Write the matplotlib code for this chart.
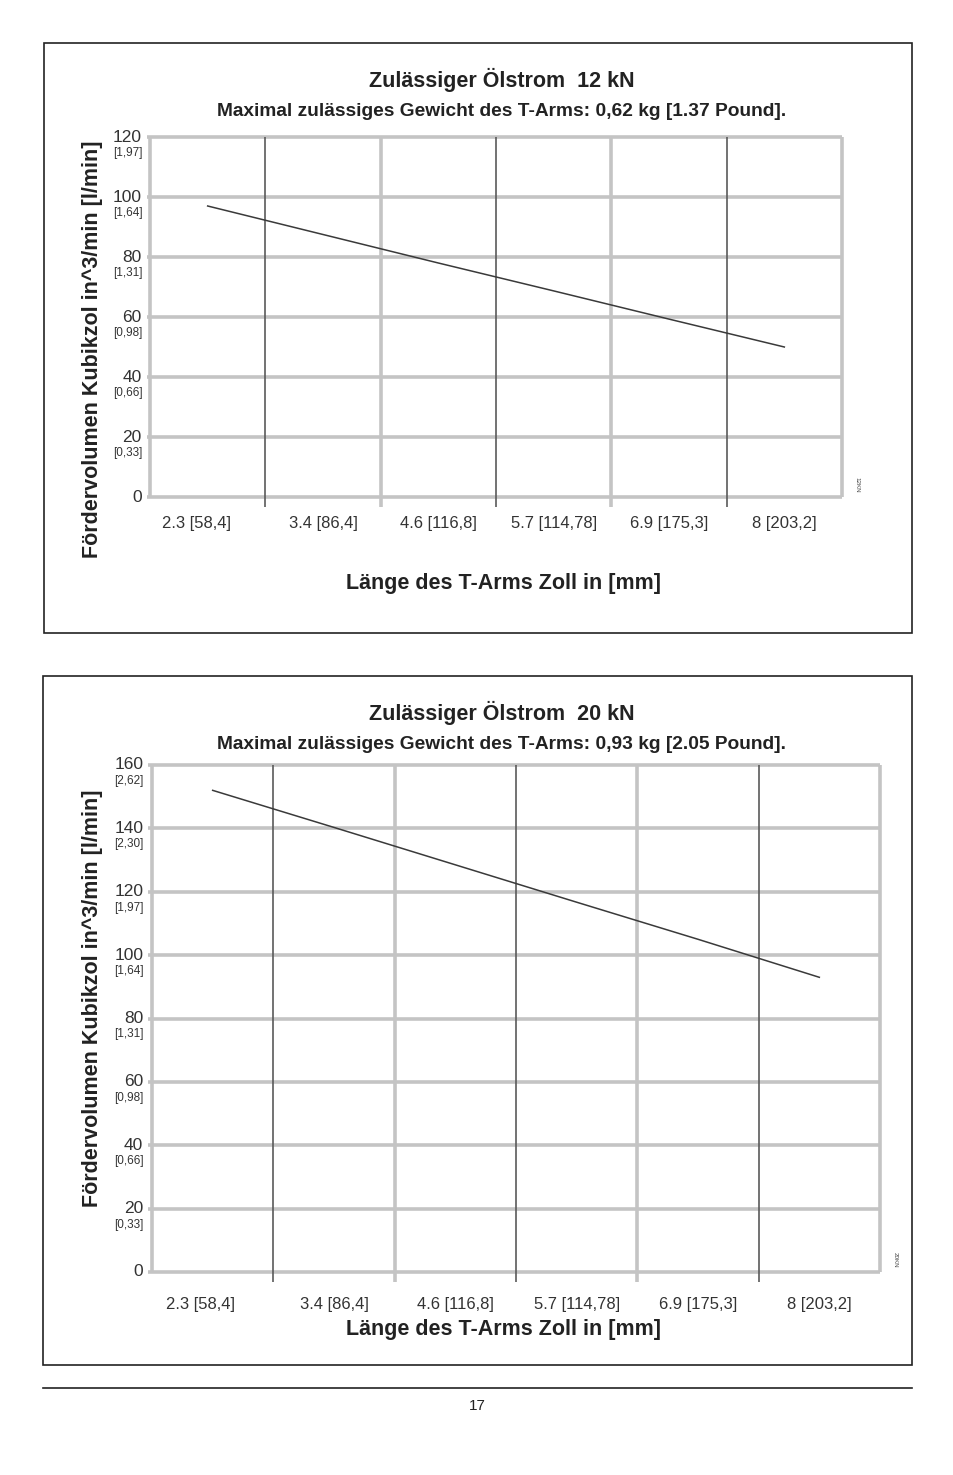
import matplotlib
matplotlib.use("Agg")
import matplotlib.pyplot as plt
import matplotlib.patches as patches
import matplotlib.transforms as mtransforms

W, H = 954, 1475

# data
x_labels = ["2.3 [58,4]", "3.4 [86,4]", "4.6 [116,8]", "5.7 [114,78]", "6.9 [175,3]", "8 [203,2]"]
flow_12kn = [97, 87.5, 78, 68.7, 59.3, 50]
flow_20kn = [152, 140.3, 128.5, 116.7, 105, 93]
yticks_12kn = [0, 20, 40, 60, 80, 100, 120]
yticks_20kn = [0, 20, 40, 60, 80, 100, 120, 140, 160]
lmin_labels = {20: "[0,33]", 40: "[0,66]", 60: "[0,98]", 80: "[1,31]", 100: "[1,64]",
               120: "[1,97]", 140: "[2,30]", 160: "[2,62]"}

BOLD = ["Liberation Sans", "DejaVu Sans"]
NARROW = ["Liberation Sans Narrow", "Liberation Sans", "DejaVu Sans"]

fig = plt.figure(figsize=(W / 100, H / 100), dpi=100)


def fbox(x0, y0, x1, y1):
    # pixel box (top-left origin) -> figure fraction rect
    return [x0 / W, 1 - y1 / H, (x1 - x0) / W, (y1 - y0) / H]


def ftext(x, y, s, **kw):
    fig.text(x / W, 1 - y / H, s, **kw)


def chart(frame, plot, values, yticks, title, subtitle, xtick_y, xlab_y, ylab_y, tag):
    # outer frame
    fig.patches.append(patches.Rectangle((frame[0] / W, 1 - frame[3] / H),
                                         (frame[2] - frame[0]) / W, (frame[3] - frame[1]) / H,
                                         transform=fig.transFigure, fill=False,
                                         edgecolor="#222222", linewidth=1.2))
    ax = fig.add_axes(fbox(*plot))
    ymax = yticks[-1]
    n = len(values)
    ax.set_xlim(-0.5, n - 0.5)
    ax.set_ylim(0, ymax)
    for s in ax.spines.values():
        s.set_visible(False)
    ax.set_xticks([])
    ax.set_yticks([])

    light = "#c4c4c4"
    dark = "#5a5a5a"
    for v in yticks:
        ax.plot([-0.53, n - 0.5], [v, v], color=light, lw=2.6, clip_on=False, solid_capstyle="butt")
    tick_len = ymax * 10 / (plot[3] - plot[1])
    for i in range(n + 1):
        xb = i - 0.5
        if i == 0 or i == n or i % 2 == 0:
            col, lw = light, 2.6
        else:
            col, lw = dark, 1.2
        bottom = 0 if i in (0, n) else -tick_len
        ax.plot([xb, xb], [bottom, ymax], color=col, lw=lw, clip_on=False, solid_capstyle="butt")

    ax.plot(range(n), values, color="#3a3a3a", lw=1.1)

    # y tick labels (in^3/min with l/min below)
    trans = mtransforms.blended_transform_factory(ax.transAxes, ax.transData)
    trans_lo = mtransforms.offset_copy(trans, fig=fig, y=-16, units="dots")
    for v in yticks:
        ax.text(-0.012, v, str(v), transform=trans, ha="right", va="center",
                fontsize=12.5, family=NARROW, color="#333333")
        if v in lmin_labels:
            ax.text(-0.011, v, lmin_labels[v], transform=trans_lo, ha="right",
                    va="center", fontsize=8.5, family=NARROW, color="#333333")

    # x tick labels
    for i, lab in enumerate(x_labels):
        xi = i - 0.1 if i == 0 else i
        ftext(plot[0] + (xi + 0.5) * (plot[2] - plot[0]) / n, xtick_y, lab, ha="center",
              va="center", fontsize=12, family=NARROW, color="#333333")

    cx = 502
    ftext(cx, frame[1] + 37, title, ha="center", va="center", fontsize=15.5,
          fontweight="bold", family=BOLD, color="#222222")
    ftext(cx, frame[1] + 68, subtitle, ha="center", va="center", fontsize=13.8,
          fontweight="bold", family=BOLD, color="#222222")
    ftext(504, xlab_y, "Länge des T-Arms Zoll in [mm]", ha="center", va="center",
          fontsize=15.5, fontweight="bold", family=BOLD, color="#222222")
    ftext(93, ylab_y, "Fördervolumen Kubikzol in^3/min [l/min]", ha="center",
          va="center", rotation=90, fontsize=15.5, fontweight="bold", family=BOLD,
          color="#222222")
    ftext(plot[2] + 15, plot[3] - 12, tag, ha="center", va="center", rotation=270,
          fontsize=4.5, family=NARROW, color="#444444")
    return ax


chart((44, 43, 912, 633), (150, 137, 842, 497), flow_12kn, yticks_12kn,
      "Zulässiger Ölstrom  12 kN",
      "Maximal zulässiges Gewicht des T-Arms: 0,62 kg [1.37 Pound].",
      524, 584, 349, "12KN")

chart((43, 676, 912, 1365), (152, 765, 880, 1272), flow_20kn, yticks_20kn,
      "Zulässiger Ölstrom  20 kN",
      "Maximal zulässiges Gewicht des T-Arms: 0,93 kg [2.05 Pound].",
      1304, 1330, 998, "20KN")

# page footer
fig.add_artist(plt.Line2D([43 / W, 912 / W], [1 - 1388 / H, 1 - 1388 / H],
                          transform=fig.transFigure, color="#222222", lw=1.2))
ftext(477, 1406, "17", ha="center", va="center", fontsize=11, family=NARROW, color="#222222")

fig.savefig("out.png", dpi=100)
